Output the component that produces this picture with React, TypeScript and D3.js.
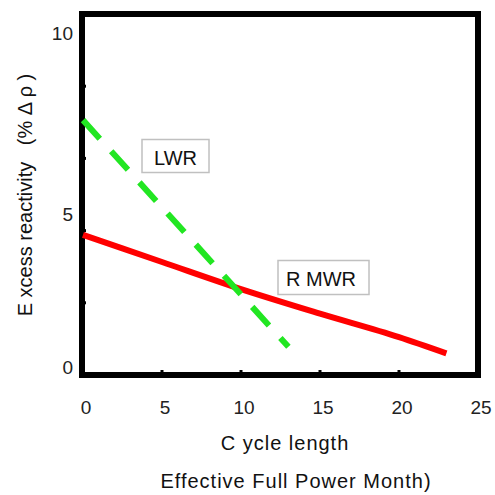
import React from "react";
import * as d3 from "d3";

const xTicks = [0, 5, 10, 15, 20, 25];
const yTickLabels = [0, 5, 10];
const yMinorTicks = [2, 4, 6, 8];
const xMinorTicks = [5, 10, 15, 20];

const lwrX = [0, 13];
const lwrY = [7.06, 0.78];

const rmwrX = [0, 5, 10, 15, 20, 23];
const rmwrY = [3.88, 3.13, 2.38, 1.7, 1.05, 0.6];

const W = 495;
const H = 495;
const FONT = "'Liberation Sans', Arial, sans-serif";

export default function App() {
  const x = d3.scaleLinear().domain([0, 25]).range([83, 478]);
  const y = d3.scaleLinear().domain([0, 10]).range([375, 14]);
  const line = d3
    .line<[number, number]>()
    .x((d) => x(d[0]))
    .y((d) => y(d[1]))
    .curve(d3.curveMonotoneX);
  const lwr = lwrX.map((v, i) => [v, lwrY[i]] as [number, number]);
  const rmwr = rmwrX.map((v, i) => [v, rmwrY[i]] as [number, number]);

  const [x0, x1] = x.range();
  const [yb, yt] = y.range();

  return (
    <svg
      width={W}
      height={H}
      style={{ position: "absolute", left: 0, top: 0, background: "#fff" }}
      fontFamily={FONT}
    >
      <rect x={0} y={0} width={W} height={H} fill="#fff" />
      {/* frame */}
      <rect
        x={x0 - 1}
        y={yt}
        width={x1 - x0 + 1}
        height={yb - yt}
        fill="none"
        stroke="#000"
        strokeWidth={6}
      />
      {/* minor ticks */}
      {xMinorTicks.map((t) => (
        <line
          key={"xt" + t}
          x1={x(t)}
          x2={x(t)}
          y1={yb - 2}
          y2={yb - 5}
          stroke="#000"
          strokeWidth={3}
        />
      ))}
      {yMinorTicks.map((t) => (
        <line
          key={"yt" + t}
          x1={x0}
          x2={x0 + 3}
          y1={y(t)}
          y2={y(t)}
          stroke="#000"
          strokeWidth={3}
        />
      ))}
      {/* series */}
      <path
        d={line(rmwr) || ""}
        fill="none"
        stroke="#ff0000"
        strokeWidth={6}
      />
      <path
        d={line(lwr) || ""}
        fill="none"
        stroke="#22e622"
        strokeWidth={6}
        strokeDasharray="25 17"
      />
      {/* x tick labels */}
      {xTicks.map((t) => (
        <text
          key={"xl" + t}
          x={x(t) + 3}
          y={414}
          fontSize={19}
          textAnchor="middle"
          fill="#222"
        >
          {t}
        </text>
      ))}
      {/* y tick labels */}
      {yTickLabels.map((t) => (
        <text
          key={"yl" + t}
          x={73}
          y={Math.min(y(t) + 26, yb - 1)}
          fontSize={19}
          textAnchor="end"
          fill="#222"
        >
          {t}
        </text>
      ))}
      {/* legend boxes */}
      <rect x={142} y={139.5} width={67} height={33} fill="#fff" stroke="#c0c0c0" strokeWidth={1.5} />
      <text x={175.5} y={165} fontSize={20} textAnchor="middle" fill="#111">
        LWR
      </text>
      <rect x={278} y={260.5} width={91} height={34} fill="#fff" stroke="#c0c0c0" strokeWidth={1.5} />
      <text
        x={321}
        y={286}
        fontSize={20}
        textAnchor="middle"
        fill="#111"
        style={{ whiteSpace: "pre" }}
      >
        {"R MWR"}
      </text>
      {/* axis titles */}
      <text
        x={285}
        y={450}
        fontSize={20}
        textAnchor="middle"
        fill="#111"
        letterSpacing={1}
        style={{ whiteSpace: "pre" }}
      >
        {"C ycle length"}
      </text>
      <text
        x={296}
        y={488}
        fontSize={20}
        textAnchor="middle"
        fill="#111"
        letterSpacing={1}
        style={{ whiteSpace: "pre" }}
      >
        {"Effective Full Power Month)"}
      </text>
      <text
        transform="translate(32,195) rotate(-90)"
        fontSize={20}
        textAnchor="middle"
        fill="#111"
        style={{ whiteSpace: "pre" }}
      >
        {"E xcess reactivity   (% Δ ρ )"}
      </text>
    </svg>
  );
}
